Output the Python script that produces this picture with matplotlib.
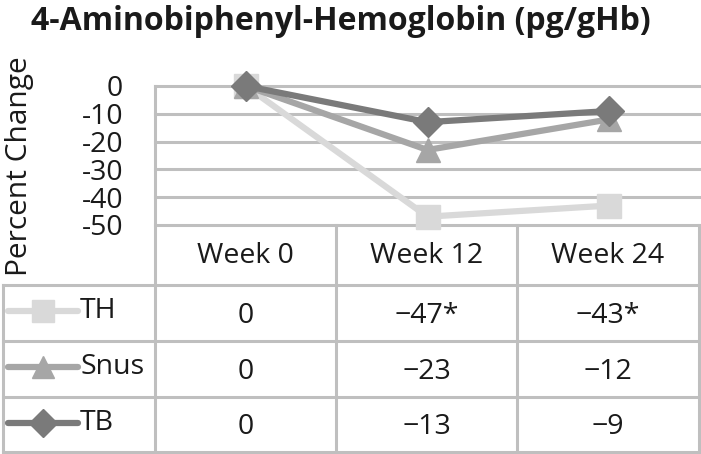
import matplotlib
matplotlib.use("Agg")
import matplotlib.pyplot as plt

plt.rcParams['font.family'] = ['Open Sans', 'DejaVu Sans']

title = "4-Aminobiphenyl-Hemoglobin (pg/gHb)"
categories = ["Week 0", "Week 12", "Week 24"]
series_names = ["TH", "Snus", "TB"]
th_values = [0, -47, -43]
snus_values = [0, -23, -12]
tb_values = [0, -13, -9]
th_labels = ["0", "\u221247*", "\u221243*"]
snus_labels = ["0", "\u221223", "\u221212"]
tb_labels = ["0", "\u221213", "\u22129"]
yticks = [0, -10, -20, -30, -40, -50]
ylabel = "Percent Change"

colors = ["#d9d9d9", "#a6a6a6", "#7a7a7a"]
markers = ["s", "^", "D"]
msizes = [17, 17, 15]
grid_color = "#bfbfbf"
txt_color = "#1a1a1a"
fs = 20.5

W, H = 701, 454
fig = plt.figure(figsize=(W / 100, H / 100), dpi=100)

px_left, px_right = 155, 700
px_top, px_bot = 86, 225
ax = fig.add_axes([px_left / W, 1 - px_bot / H, (px_right - px_left) / W, (px_bot - px_top) / H])
ax.set_xlim(0, 3)
ax.set_ylim(-50, 0)
for s in ax.spines.values():
    s.set_visible(False)
ax.set_xticks([])
ax.set_yticks(yticks)
ax.set_yticklabels([str(v) if v == 0 else "-" + str(-v) for v in yticks], fontsize=fs, color=txt_color)
ax.tick_params(axis='y', length=0, pad=23)
for t in yticks:
    ax.axhline(t, color=grid_color, lw=2.2, zorder=1, clip_on=False)

xs = [0.5, 1.5, 2.5]
all_vals = [th_values, snus_values, tb_values]
for vals, c, m, ms in zip(all_vals, colors, markers, msizes):
    ax.plot(xs, vals, color=c, lw=4.5, marker=m, markersize=ms, markeredgecolor=c,
            zorder=3, clip_on=False, solid_capstyle='butt')

ov = fig.add_axes([0, 0, 1, 1], facecolor='none')
ov.set_xlim(0, W)
ov.set_ylim(H, 0)
ov.axis('off')

lw_t = 2.2
col_edges = [155, 336, 517, 699]
row_edges = [225, 285, 341, 397, 452]
ov.plot([155, 155], [86, 452], color=grid_color, lw=lw_t)
for x in col_edges[1:]:
    ov.plot([x, x], [225, 452], color=grid_color, lw=lw_t)
ov.plot([3, 3], [285, 452], color=grid_color, lw=lw_t)
for y in row_edges[1:]:
    ov.plot([3, 699], [y, y], color=grid_color, lw=lw_t)

centers = [(col_edges[i] + col_edges[i + 1]) / 2 for i in range(3)]
for cx, cat in zip(centers, categories):
    ov.text(cx, 256, cat, ha='center', va='center', fontsize=fs, color=txt_color)

row_labels = [th_labels, snus_labels, tb_labels]
for r, (name, labs, c, m, ms) in enumerate(zip(series_names, row_labels, colors, markers, msizes)):
    yc = (row_edges[r + 1] + row_edges[r + 2]) / 2 + 3
    for cx, lab in zip(centers, labs):
        ov.text(cx, yc, lab, ha='center', va='center', fontsize=fs, color=txt_color)
    ly = yc - 5
    ov.plot([8, 78], [ly, ly], color=c, lw=4.5, solid_capstyle='round')
    ov.plot([43], [ly], marker=m, markersize=ms * 0.95, color=c, markeredgecolor=c)
    ov.text(80, ly, name, ha='left', va='center', fontsize=fs, color=txt_color)

fig.text(341 / W, 1 - 21 / H, title, ha='center', va='center', fontsize=23,
         fontweight='bold', color=txt_color)
fig.text(20 / W, 1 - 166 / H, ylabel, ha='center', va='center', rotation=90,
         fontsize=21.5, color=txt_color)

fig.savefig("out.png", dpi=100)
